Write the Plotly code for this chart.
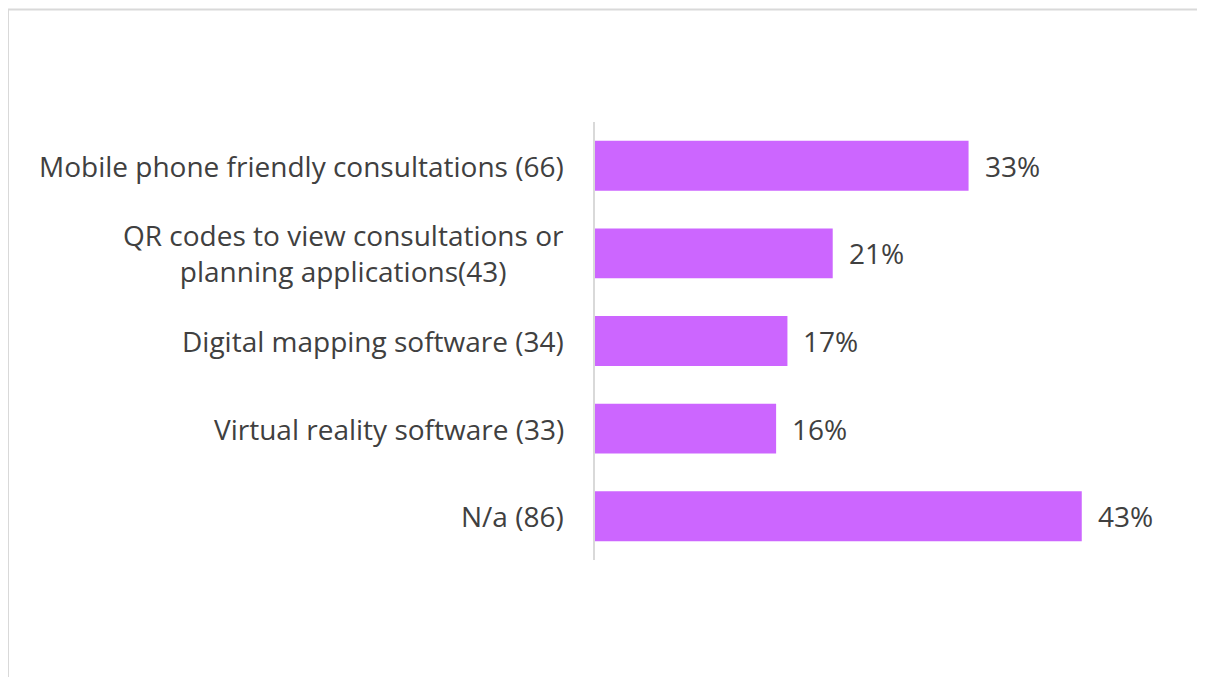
import plotly.graph_objects as go

categories = [
    "Mobile phone friendly consultations (66)",
    "QR codes to view consultations or<br>planning applications(43)",
    "Digital mapping software (34)",
    "Virtual reality software (33)",
    "N/a (86)",
]
values = [33, 21, 17, 16, 43]
value_labels = ["33%", "21%", "17%", "16%", "43%"]

# page offset of 8px (body margin) is compensated
OFF = 8
W, H = 1205 - OFF, 677 - OFF
L, R = 595 - OFF, 1161 - OFF
T, B = 122 - OFF, 560 - OFF
FONT = "Open Sans"
TXT = "#404040"

fig = go.Figure(go.Bar(
    x=values, y=categories, orientation="h",
    marker=dict(color="#CC66FF", line=dict(width=0)),
    hoverinfo="skip",
))

annotations = []
for c, v, t in zip(categories, values, value_labels):
    annotations.append(dict(x=v, y=c, xref="x", yref="y", text=t, showarrow=False,
                            xanchor="left", xshift=14,
                            font=dict(family=FONT, size=28, color=TXT)))
    annotations.append(dict(x=0, y=c, xref="paper", yref="y", text=c, showarrow=False,
                            xanchor="right", xshift=-29, align="center",
                            font=dict(family=FONT, size=28, color=TXT)))

pw, ph = R - L, B - T
def px(x): return (x - L) / pw
def py(y): return (B - y) / ph

shapes = [
    dict(type="line", xref="paper", yref="paper", x0=px(0), x1=px(W), y0=py(1.5), y1=py(1.5),
         line=dict(color="#d9d9d9", width=2)),
    dict(type="line", xref="paper", yref="paper", x0=px(0), x1=px(0), y0=py(1.5), y1=py(H),
         line=dict(color="#d9d9d9", width=2)),
]

fig.update_layout(
    width=W, height=H,
    margin=dict(l=L, r=W - R, t=T, b=H - B, pad=0),
    paper_bgcolor="white", plot_bgcolor="white",
    bargap=0.43, showlegend=False,
    xaxis=dict(range=[0, 50], visible=False, fixedrange=True),
    yaxis=dict(autorange="reversed", showticklabels=False, ticks="", showgrid=False,
               showline=True, linecolor="#d9d9d9", linewidth=2, zeroline=False),
    annotations=annotations, shapes=shapes,
)

fig.write_html("out.html")
